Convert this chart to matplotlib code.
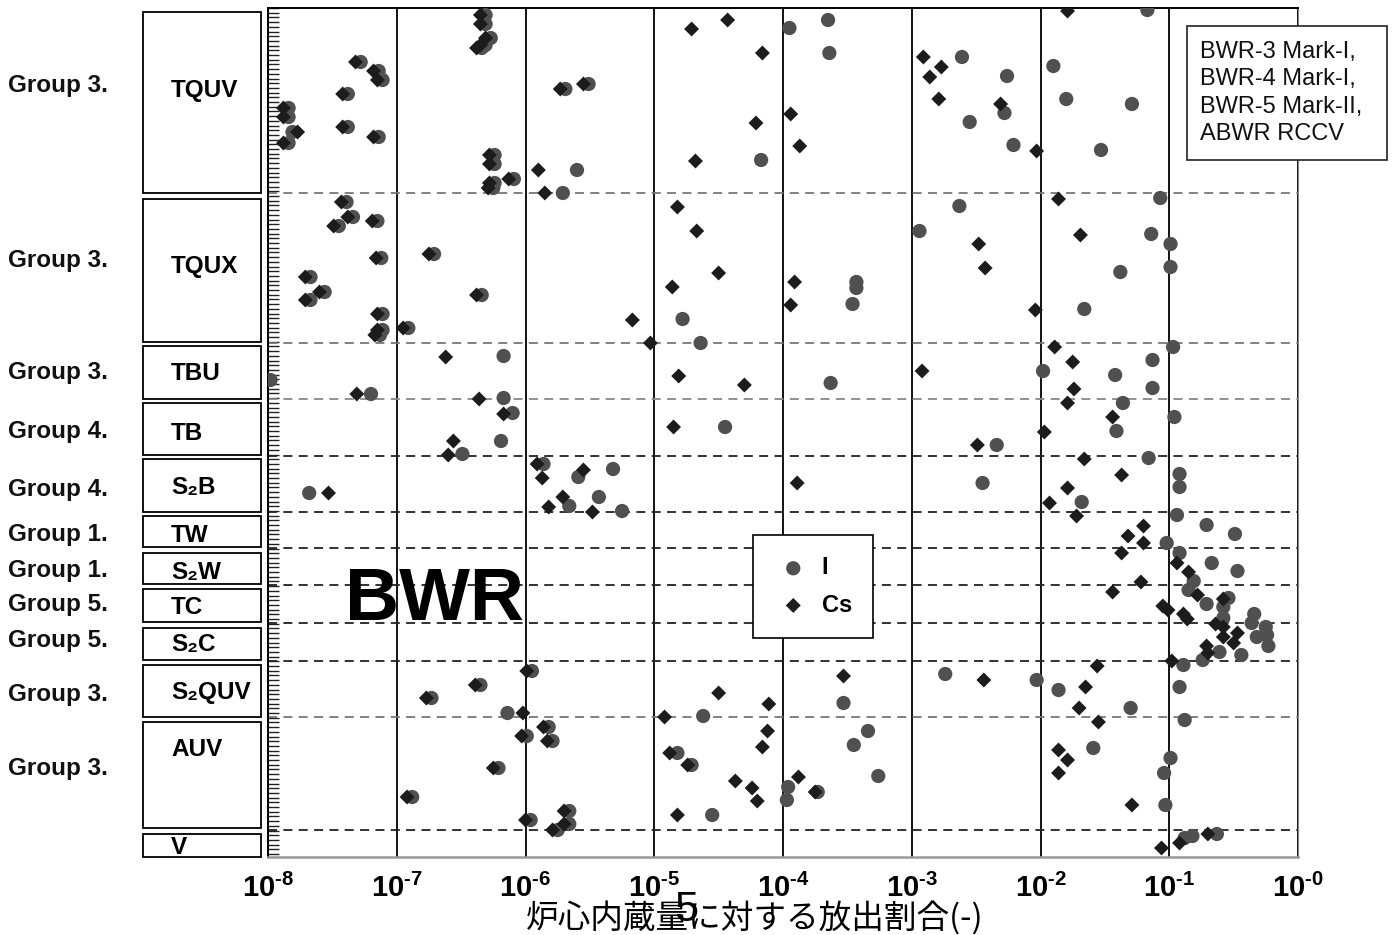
import matplotlib
matplotlib.use("Agg")
import matplotlib.pyplot as plt
import matplotlib.transforms as mtransforms
from matplotlib.patches import Rectangle
from matplotlib.ticker import FixedLocator, MultipleLocator, NullLocator
import numpy as np

plt.rcParams['font.family'] = ['Liberation Sans', 'Noto Sans CJK JP', 'DejaVu Sans']
plt.rcParams['mathtext.fontset'] = 'custom'
plt.rcParams['mathtext.bf'] = 'Liberation Sans:bold'
plt.rcParams['mathtext.rm'] = 'Liberation Sans'

# sequence rows: name, group label, band (top, bottom) on the row axis, label row
rows = ['TQUV', 'TQUX', 'TBU', 'TB', 'S\u2082B', 'TW', 'S\u2082W', 'TC', 'S\u2082C', 'S\u2082QUV', 'AUV', 'V']
groups = ['Group 3.', 'Group 3.', 'Group 3.', 'Group 4.', 'Group 4.', 'Group 1.', 'Group 1.',
          'Group 5.', 'Group 5.', 'Group 3.', 'Group 3.', '']
row_top = [4, 191, 338, 395, 451, 508, 545, 581, 620, 657, 714, 826]
row_bot = [185, 334, 391, 447, 504, 539, 576, 614, 652, 709, 820, 849]
row_text = [82, 258, 366, 425, 479, 527, 564, 599, 637, 684, 742, 839]
group_text = [77, 252, 365, 423, 481, 526, 562, 596, 632, 687, 760, 0]
bounds = [185, 335, 391, 448, 504, 540, 577, 615, 653, 709, 822]
bound_colors = ['#777777', '#777777', '#888888', '#222222', '#222222', '#222222',
                '#222222', '#222222', '#222222', '#777777', '#222222']

# release fraction (log10) and vertical position within the rows, Cs
cs_logx = [
    # TQUV
    -6.35, -6.35, -6.31, -6.35, -6.38, -7.32, -7.18, -7.15, -7.42, -7.88, -7.88, -7.77, -7.88,
    -7.42, -7.18, -6.28, -6.28, -6.13, -6.28, -6.29, -5.73, -5.55, -5.90, -5.85, -4.71, -4.43,
    -4.16, -4.21, -4.68, -3.94, -3.87, -2.91, -2.77, -2.86, -2.79, -2.31, -2.03, -1.79,
    # TQUX
    -7.43, -7.38, -7.49, -7.19, -7.16, -7.71, -7.60, -7.71, -7.15, -7.17, -7.15, -6.95, -6.75,
    -6.38, -4.82, -4.67, -4.50, -4.86, -5.03, -5.17, -2.48, -2.43, -3.91, -3.94, -2.04, -1.86, -1.69,
    # TBU
    -1.89, -1.75, -1.74, -2.92, -4.81, -4.30, -6.62, -7.31, -6.36,
    # TB
    -6.17, -6.56, -6.60, -4.85, -2.49, -1.79, -1.44, -1.97,
    # S2B
    -7.53, -5.91, -5.87, -5.55, -5.71, -5.82, -5.48, -3.89, -1.66, -1.79, -1.93, -1.72, -1.37,
    # TW
    -1.20, -1.32, -1.20,
    # S2W
    -1.37, -0.94, -0.85, -1.22,
    # TC
    -1.44, -0.78, -0.58, -1.05, -1.01, -0.89, -0.86,
    # S2C
    -0.64, -0.58, -0.47, -0.58, -0.50, -0.71, -0.70, -0.98,
    # S2QUV
    -5.99, -6.39, -6.77, -1.56, -1.65, -2.44, -3.53, -4.50, -4.11, -4.92, -6.02, -1.70,
    # AUV
    -5.86, -5.83, -6.03, -6.25, -6.92, -5.70, -6.00, -5.70, -5.79, -1.55, -4.12, -4.16, -4.88,
    -4.74, -4.37, -4.24, -4.20, -3.88, -3.75, -4.82, -1.86, -1.79, -1.86, -1.29,
    # V
    -1.06, -0.92, -0.70,
]
cs_pos = [
    7, 16, 30, 37, 40, 54, 63, 72, 86, 100, 109, 124, 135,
    119, 129, 147, 156, 171, 175, 180, 81, 76, 162, 185, 21, 12,
    45, 115, 153, 106, 138, 49, 59, 69, 91, 96, 143, 3,
    194, 209, 218, 213, 250, 269, 284, 292, 306, 327, 322, 320, 246,
    287, 199, 223, 265, 279, 335, 312, 236, 260, 274, 297, 302, 191, 227,
    339, 354, 381, 363, 368, 377, 349, 386, 391,
    406, 433, 447, 419, 437, 395, 409, 424,
    485, 456, 470, 462, 489, 499, 504, 475, 451, 480, 495, 508, 467,
    518, 528, 535,
    545, 555, 564, 574,
    584, 587, 591, 598, 602, 606, 611,
    616, 619, 625, 629, 635, 638, 645, 653,
    663, 677, 690, 658, 679, 672, 668, 685, 696, 709, 705, 700,
    719, 733, 728, 760, 789, 803, 812, 816, 822, 714, 723, 739, 745,
    757, 773, 780, 793, 769, 784, 807, 742, 752, 765, 797,
    840, 835, 826,
]

# I
i_logx = [
    # TQUV
    -6.31, -6.31, -6.27, -6.31, -6.34, -7.28, -7.14, -7.11, -7.38, -7.84, -7.84, -7.81, -7.84,
    -7.38, -7.14, -6.24, -6.24, -6.09, -6.24, -6.25, -5.69, -5.51, -5.60, -5.71, -4.17, -3.95,
    -3.65, -3.64, -2.61, -2.26, -2.28, -2.55, -2.21, -1.17, -1.90, -1.80, -1.29, -1.53,
    # TQUX
    -7.39, -7.34, -7.45, -7.15, -7.12, -7.67, -7.56, -7.67, -7.11, -7.13, -7.11, -6.91, -6.71,
    -6.34, -4.78, -4.64, -2.63, -2.94, -3.43, -3.43, -3.46, -1.07, -1.14, -0.99, -0.99, -1.38, -1.66,
    # TBU
    -0.97, -1.13, -1.98, -1.42, -1.13, -3.63, -7.98, -7.20, -6.17, -6.17,
    # TB
    -6.10, -6.19, -6.49, -4.45, -2.34, -1.36, -0.96, -1.41,
    # S2B
    -7.68, -5.86, -5.59, -5.32, -5.66, -5.43, -5.25, -2.45, -1.16, -0.92, -0.92, -1.68,
    # TW
    -0.94, -0.71, -0.49,
    # S2W
    -1.02, -0.92, -0.67, -0.47, -0.81,
    # TC
    -0.85, -0.71, -0.54, -0.58, -0.58, -0.34,
    # S2C
    -0.36, -0.25, -0.24, -0.32, -0.23, -0.61, -0.44, -0.74,
    # S2QUV
    -5.95, -6.35, -6.73, -0.89, -2.03, -1.86, -0.92, -2.74, -3.53, -4.62, -6.14, -1.30,
    # AUV
    -5.82, -5.79, -5.99, -6.21, -6.88, -5.66, -5.96, -5.66, -5.75, -0.88, -3.34, -3.45, -4.82,
    -4.71, -3.96, -3.97, -3.73, -3.26, -4.55, -1.59, -0.99, -1.04, -1.03,
    # V
    -0.88, -0.82, -0.63,
]
i_pos = [
    7, 16, 30, 37, 40, 54, 63, 72, 86, 100, 109, 124, 135,
    119, 129, 147, 156, 171, 175, 180, 81, 76, 162, 185, 152, 20,
    12, 45, 49, 68, 105, 114, 137, 2, 58, 91, 96, 142,
    194, 209, 218, 213, 250, 269, 284, 292, 306, 327, 322, 320, 246,
    287, 311, 335, 198, 223, 274, 280, 296, 190, 226, 236, 259, 264, 301,
    339, 352, 363, 367, 380, 375, 372, 386, 348, 390,
    405, 433, 446, 419, 437, 395, 409, 423,
    485, 456, 469, 461, 498, 489, 503, 475, 450, 466, 479, 494,
    507, 517, 526,
    535, 545, 555, 563, 573,
    582, 596, 590, 599, 610, 606,
    615, 619, 627, 629, 638, 644, 647, 652,
    663, 677, 690, 657, 672, 682, 679, 666, 695, 708, 705, 700,
    719, 733, 728, 760, 789, 803, 812, 816, 822, 712, 723, 737, 745,
    757, 779, 792, 784, 768, 807, 740, 750, 765, 797,
    830, 828, 826,
]

decades = [1e-8, 1e-7, 1e-6, 1e-5, 1e-4, 1e-3, 1e-2, 1e-1, 1e0]
exps = ['8', '7', '6', '5', '4', '3', '2', '1', '0']
tick_labels = [r'$\mathbf{10^{' + '\u2010' + e + '}}$' for e in exps]
plant_text = 'BWR-3 Mark-I,\nBWR-4 Mark-I,\nBWR-5 Mark-II,\nABWR RCCV'

W, H = 1399, 935
fig = plt.figure(figsize=(W / 100, H / 100), dpi=100)
ax = fig.add_axes([268 / W, 1 - 857 / H, 1030 / W, 849 / H])

ax.scatter(10 ** np.array(i_logx), i_pos, s=105, marker='o', color='#505050',
           edgecolors='none', zorder=3, label='I')
ax.scatter(10 ** np.array(cs_logx), cs_pos, s=58, marker='D', color='#1c1c1c',
           edgecolors='none', zorder=4, label='Cs')

ax.set_xscale('log')
ax.set_xlim(1e-8, 1e0)
ax.set_ylim(849, 0)

ax.xaxis.set_major_locator(FixedLocator(decades))
ax.xaxis.set_minor_locator(NullLocator())
ax.set_xticklabels(tick_labels, fontsize=21)
ax.tick_params(axis='x', length=0, pad=12)
ax.xaxis.grid(True, color='black', lw=1.3)
ax.set_axisbelow(True)

ax.yaxis.set_major_locator(NullLocator())
ax.yaxis.set_minor_locator(MultipleLocator(4.7))
ax.tick_params(axis='y', which='minor', direction='in', length=8, width=1, color='#222222')

for b, c in zip(bounds, bound_colors):
    ax.axhline(b, color=c, lw=1.3, ls=(0, (5, 3.5)), zorder=2)

ax.spines['left'].set_linewidth(1.4)
ax.spines['top'].set_linewidth(1.4)
ax.spines['right'].set_color('#888888')
ax.spines['bottom'].set_color('#999999')
ax.spines['bottom'].set_linewidth(1.8)

# row boxes and group labels on the left
trans = mtransforms.blended_transform_factory(fig.transFigure, ax.transData)
for name, grp, t, b, ty, gy in zip(rows, groups, row_top, row_bot, row_text, group_text):
    ax.add_patch(Rectangle((143 / W, t), 118 / W, b - t, transform=trans, fill=False,
                           edgecolor='black', lw=1.3, clip_on=False))
    ax.text(171 / W, ty, name, transform=trans, fontsize=17.5, fontweight='bold',
            ha='left', va='center')
    if grp:
        ax.text(8 / W, gy, grp, transform=trans, fontsize=17.5, fontweight='bold',
                ha='left', va='center', color='#111111')

ax.text(0.162, 0.302, 'BWR', transform=ax.transAxes, fontsize=54, fontweight='heavy',
        ha='center', va='center')

leg = ax.legend(loc='upper left', bbox_to_anchor=(0.471, 0.379), frameon=True, fancybox=False,
                edgecolor='black', framealpha=1, prop={'size': 17, 'weight': 'bold'},
                handlelength=1.6, handletextpad=0.4, labelspacing=0.6, borderpad=0.9,
                borderaxespad=0)
leg.get_frame().set_linewidth(1.2)

fig.patches.append(Rectangle((1187 / W, 1 - 160 / H), 200 / W, 134 / H, transform=fig.transFigure,
                             fill=True, facecolor='white', edgecolor='#222222', lw=1.2, zorder=5))
fig.text(1200 / W, 1 - 93 / H, plant_text, fontsize=17, ha='left', va='center',
         linespacing=1.32, zorder=6, color='#111111')

fig.text(755 / W, 1 - 918 / H, '炉心内蔵量に対する放出割合(-)', family=['Noto Sans CJK JP', 'DejaVu Sans'],
         fontsize=23.5, ha='center', va='center')
fig.text(686 / W, 1 - 910 / H, '5', fontsize=31, ha='center', va='center')

fig.savefig('out.png', dpi=100)
